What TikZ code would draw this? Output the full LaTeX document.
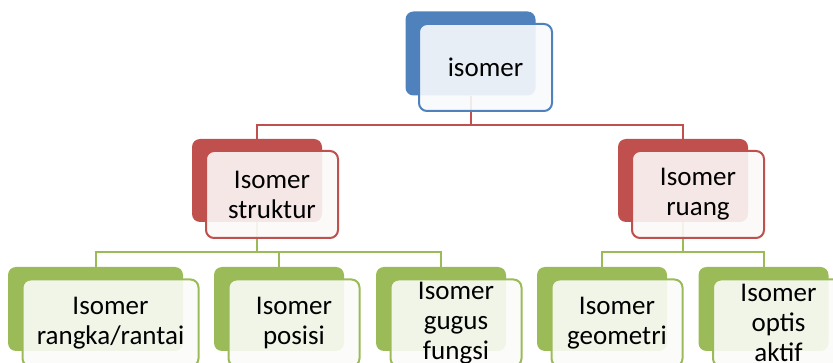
\documentclass[tikz,border=0pt]{standalone}
\usepackage{fontspec}
\setmainfont{Carlito}
\usetikzlibrary{backgrounds}
\definecolor{isoblue}{HTML}{4F81BD}
\definecolor{isored}{HTML}{C0504D}
\definecolor{isogreen}{HTML}{9BBB59}
\tikzset{
  backbox/.style={fill=#1,rounded corners=8pt,minimum width=130pt,minimum height=84pt,inner sep=0pt},
  frontbox/.style={draw=#1,line width=2pt,fill=#1!4,fill opacity=0.9,text opacity=1,rounded corners=8pt,
    minimum width=133pt,minimum height=87pt,inner sep=0pt,align=center,font=\fontsize{27}{30}\selectfont},
  link/.style={line width=2pt,draw=#1},
}
\begin{document}
\begin{tikzpicture}[x=1pt,y=-1pt]
  \useasboundingbox (0,0) rectangle (833,363);
  \clip (0,0) rectangle (833,363);
  \node[backbox=isoblue] (top) at (470.5,53.5) {};
  \node[frontbox=isoblue] (topf) at ([shift={(15,14)}]top.center) {isomer};
  \foreach[count=\i] \x/\t in {257/{Isomer\\struktur},683/{Isomer\\ruang}} {
    \node[backbox=isored,minimum height=83pt] (mid\i) at (\x,180.5) {};
    \node[frontbox=isored,minimum width=132pt] (midf\i) at ([shift={(15,14)}]mid\i.center) {\t};
  }
  \foreach[count=\i,evaluate={\w+1} as \fw] \x/\w/\t in {95.5/175/{Isomer\\rangka/rantai},279/130/{Isomer\\posisi},
      441/130/{Isomer\\gugus\\fungsi},602/130/{Isomer\\geometri},763.5/130/{Isomer\\optis\\aktif}} {
    \node[backbox=isogreen,minimum width=\w pt] (leaf\i) at (\x,309) {};
    \node[frontbox=isogreen,minimum width=\fw pt] (leaff\i) at ([shift={(15,14)}]leaf\i.center) {\t};
  }
  \begin{pgfonlayer}{background}
    \foreach \i in {1,2}
      \draw[link=isored] (top.south) -- ++(0,29) -| (mid\i.north);
    \foreach \i in {1,2,3}
      \draw[link=isogreen] (mid1.south) -- ++(0,30) -| (leaf\i.north);
    \foreach \i in {4,5}
      \draw[link=isogreen] (mid2.south) -- ++(0,30) -| (leaf\i.north);
  \end{pgfonlayer}
\end{tikzpicture}
\end{document}
